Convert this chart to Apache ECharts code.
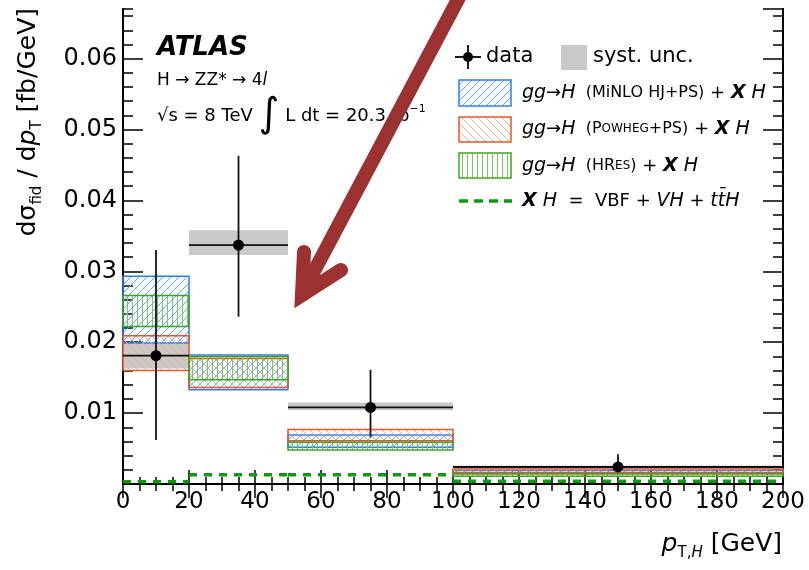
<!DOCTYPE html>
<html>
<head>
<meta charset="utf-8">
<script src="https://cdn.jsdelivr.net/npm/echarts@6/dist/echarts.min.js"></script>
<style>
html, body { margin: 0; padding: 0; background: #fff; }
#main { width: 809px; height: 570px; }
</style>
</head>
<body>
<div id="main"></div>
<script>
// bins in p_T,H [GeV]
var binEdges = [0, 20, 50, 100, 200];
var binCenters = [10, 35, 75, 150];
// measured data (fb/GeV)
var dataVal = [0.0181, 0.0337, 0.0108, 0.0024];
var statLo = [0.0062, 0.0236, 0.0066, 0.0017];
var statHi = [0.0330, 0.0463, 0.0161, 0.0042];
var systLo = [0.0163, 0.0323, 0.0104, 0.0022];
var systHi = [0.0199, 0.0358, 0.0115, 0.0026];
// predictions (band low / high)
var minloLo = [0.0199, 0.0133, 0.0052, 0.0015];
var minloHi = [0.0293, 0.0182, 0.0069, 0.0019];
var powhegLo = [0.0160, 0.0136, 0.0061, 0.0016];
var powhegHi = [0.0209, 0.0177, 0.0077, 0.0021];
var hresLo = [0.0222, 0.0147, 0.0048, 0.0011];
var hresHi = [0.0266, 0.0180, 0.0059, 0.0014];
var xhVal = [0.0003, 0.0013, 0.0013, 0.0004];

var FONT = '"DejaVu Sans"';

// little canvas tiles used as hatch fills (pixel by pixel, stroke gave muddy colours)
function hatch(color, kind, bg) {
    var c = document.createElement('canvas');
    var n = kind === 'vert' ? 5 : 8;
    c.width = n; c.height = n;
    var ctx = c.getContext('2d');
    if (bg) {
        ctx.fillStyle = bg;
        ctx.fillRect(0, 0, n, n);
    }
    ctx.fillStyle = color;
    for (var i = 0; i < n; i++) {
        if (kind === 'fwd') ctx.fillRect(i, n - 1 - i, 1, 1);
        else if (kind === 'back') ctx.fillRect(i, i, 1, 1);
        else ctx.fillRect(2, i, 1, 1);
    }
    return { image: c, repeat: 'repeat' };
}

var blueHatch = hatch('#6ea8f2', 'fwd', 'rgba(110,168,242,0.08)');
var redHatch = hatch('#f4ad95', 'back');
var greenHatch = hatch('#7cc65a', 'vert');

function bandRows(lo, hi) {
    return lo.map(function (v, i) { return [binEdges[i], binEdges[i + 1], v, hi[i]]; });
}

function bandSeries(name, lo, hi, fill, stroke, z) {
    return {
        name: name,
        type: 'custom',
        z: z,
        data: bandRows(lo, hi),
        encode: { x: [0, 1], y: [2, 3] },
        renderItem: function (params, api) {
            var a = api.coord([api.value(0), api.value(3)]);
            var b = api.coord([api.value(1), api.value(2)]);
            return {
                type: 'rect',
                shape: { x: a[0], y: a[1], width: b[0] - a[0], height: b[1] - a[1] },
                style: { fill: fill, stroke: stroke, lineWidth: 1.5 }
            };
        }
    };
}

var dataRows = dataVal.map(function (v, i) {
    return [binCenters[i], binEdges[i], binEdges[i + 1], v, statLo[i], statHi[i]];
});
var xhRows = xhVal.map(function (v, i) { return [binEdges[i], binEdges[i + 1], v]; });

var tickStyle = { color: '#000', width: 1.5 };

function hideAxis(extra) {
    var o = {
        type: 'value',
        axisLine: { show: true, lineStyle: { color: '#000', width: 2 } },
        axisLabel: { show: false },
        splitLine: { show: false }
    };
    for (var k in extra) o[k] = extra[k];
    return o;
}

function legendRich() {
    return {
        i: { fontSize: 19, fontFamily: FONT, fontStyle: 'italic' },
        n: { fontSize: 18, fontFamily: FONT },
        m: { fontSize: 16, fontFamily: FONT },
        sc: { fontSize: 12, fontFamily: FONT },
        x: { fontSize: 19, fontFamily: FONT, fontStyle: 'italic', fontWeight: 'bold' }
    };
}

var myChart = echarts.init(document.getElementById('main'));
var option = {
    backgroundColor: '#fff',
    animation: false,
    grid: { left: 123, right: 26, top: 9, bottom: 86 },
    xAxis: [
        {
            type: 'value', min: 0, max: 200, interval: 20, position: 'bottom',
            axisLine: { lineStyle: { color: '#000', width: 2 } },
            axisTick: { inside: true, length: 14, lineStyle: tickStyle },
            minorTick: { show: true, splitNumber: 4, length: 7, lineStyle: tickStyle },
            axisLabel: { color: '#000', fontSize: 23, fontFamily: FONT, margin: 7 },
            splitLine: { show: false }
        },
        hideAxis({
            min: 0, max: 200, interval: 20, position: 'top',
            axisTick: { inside: true, length: 14, lineStyle: tickStyle },
            minorTick: { show: true, splitNumber: 4, length: 7, lineStyle: tickStyle }
        })
    ],
    yAxis: [
        {
            type: 'value', min: 0, max: 0.067, interval: 0.01, position: 'left',
            axisLine: { lineStyle: { color: '#000', width: 2 } },
            axisTick: { inside: true, length: 20, lineStyle: tickStyle },
            axisLabel: {
                color: '#000', fontSize: 24, fontFamily: FONT, margin: 6, showMaxLabel: false,
                formatter: function (v) {
                    if (v === 0 || Math.abs(v * 100 - Math.round(v * 100)) > 1e-6) return '';
                    return v.toFixed(2);
                }
            },
            splitLine: { show: false }
        },
        hideAxis({
            min: 0, max: 0.067, interval: 0.002, position: 'left',
            axisTick: { inside: true, length: 10, lineStyle: tickStyle }
        }),
        hideAxis({
            min: 0, max: 0.067, interval: 0.01, position: 'right',
            axisTick: { inside: true, length: 20, lineStyle: tickStyle }
        }),
        hideAxis({
            min: 0, max: 0.067, interval: 0.002, position: 'right',
            axisTick: { inside: true, length: 10, lineStyle: tickStyle }
        })
    ],
    series: [
        {
            name: 'syst. unc.',
            type: 'custom',
            z: 2,
            data: bandRows(systLo, systHi),
            encode: { x: [0, 1], y: [2, 3] },
            renderItem: function (params, api) {
                var a = api.coord([api.value(0), api.value(3)]);
                var b = api.coord([api.value(1), api.value(2)]);
                return {
                    type: 'rect',
                    shape: { x: a[0], y: a[1], width: b[0] - a[0], height: b[1] - a[1] },
                    style: { fill: '#c9c9c9' }
                };
            }
        },
        bandSeries('MiNLO', minloLo, minloHi, blueHatch, '#2f7fe6', 3),
        bandSeries('Powheg', powhegLo, powhegHi, redHatch, '#e2572c', 4),
        bandSeries('HRes', hresLo, hresHi, greenHatch, '#41a422', 5),
        {
            name: 'XH',
            type: 'custom',
            z: 6,
            data: xhRows,
            encode: { x: [0, 1], y: 2 },
            renderItem: function (params, api) {
                var a = api.coord([api.value(0), api.value(2)]);
                var b = api.coord([api.value(1), api.value(2)]);
                return {
                    type: 'line',
                    shape: { x1: a[0], y1: a[1], x2: b[0], y2: b[1] },
                    style: { stroke: '#0a9a0a', lineWidth: 3.5, lineDash: [8, 7] }
                };
            }
        },
        {
            name: 'data',
            type: 'custom',
            z: 8,
            data: dataRows,
            encode: { x: 0, y: 3 },
            renderItem: function (params, api) {
                var c = api.coord([api.value(0), api.value(3)]);
                var l = api.coord([api.value(1), api.value(3)]);
                var r = api.coord([api.value(2), api.value(3)]);
                var dn = api.coord([api.value(0), api.value(4)]);
                var up = api.coord([api.value(0), api.value(5)]);
                return {
                    type: 'group',
                    children: [
                        { type: 'line', shape: { x1: l[0], y1: l[1], x2: r[0], y2: r[1] }, style: { stroke: '#111', lineWidth: 1.8 } },
                        { type: 'line', shape: { x1: up[0], y1: up[1], x2: dn[0], y2: dn[1] }, style: { stroke: '#111', lineWidth: 1.8 } },
                        { type: 'circle', shape: { cx: c[0], cy: c[1], r: 5.5 }, style: { fill: '#000' } }
                    ]
                };
            }
        }
    ],
    graphic: [
        // axis titles
        {
            type: 'text', x: 29, y: 8, rotation: Math.PI / 2,
            style: {
                text: '{a|dσ}{s|fid}{a| / d}{p|p}{s|T}{a| [fb/GeV]}',
                align: 'right', verticalAlign: 'middle', fill: '#000',
                rich: {
                    a: { fontSize: 25, fontFamily: FONT, lineHeight: 26, verticalAlign: 'top' },
                    p: { fontSize: 25, fontFamily: FONT, fontStyle: 'italic', lineHeight: 26, verticalAlign: 'top' },
                    s: { fontSize: 15, fontFamily: FONT, lineHeight: 15, padding: [14, 0, 0, 0], verticalAlign: 'top' }
                }
            }
        },
        {
            type: 'text', x: 782, y: 545,
            style: {
                text: '{p|p}{s|T,}{si|H}{a| [GeV]}',
                align: 'right', verticalAlign: 'middle', fill: '#000',
                rich: {
                    a: { fontSize: 25, fontFamily: FONT, lineHeight: 26, verticalAlign: 'top' },
                    p: { fontSize: 25, fontFamily: FONT, fontStyle: 'italic', lineHeight: 26, verticalAlign: 'top' },
                    s: { fontSize: 15, fontFamily: FONT, lineHeight: 15, padding: [14, 0, 0, 0], verticalAlign: 'top' },
                    si: { fontSize: 15, fontFamily: FONT, fontStyle: 'italic', lineHeight: 15, padding: [14, 0, 0, 0], verticalAlign: 'top' }
                }
            }
        },
        // ATLAS labels
        {
            type: 'text', x: 157, y: 48,
            style: { text: 'ATLAS', font: 'italic bold 26px ' + FONT, fill: '#000', verticalAlign: 'middle' }
        },
        {
            type: 'text', x: 157, y: 81,
            style: {
                text: '{n|H → ZZ* → 4}{i|l}', verticalAlign: 'middle', fill: '#000',
                rich: {
                    n: { fontSize: 17, fontFamily: FONT },
                    i: { fontSize: 17, fontFamily: FONT, fontStyle: 'italic' }
                }
            }
        },
        {
            type: 'text', x: 157, y: 116,
            style: {
                text: '{n|√s = 8 TeV }{b|∫}{n| L dt = 20.3 fb}{u|−1}', verticalAlign: 'middle', fill: '#000',
                rich: {
                    n: { fontSize: 18, fontFamily: FONT, verticalAlign: 'middle' },
                    b: { fontSize: 40, fontFamily: FONT, verticalAlign: 'middle' },
                    u: { fontSize: 11, fontFamily: FONT, verticalAlign: 'middle', padding: [0, 0, 14, 0] }
                }
            }
        },
        // legend: data
        { type: 'line', shape: { x1: 455, y1: 57, x2: 481, y2: 57 }, style: { stroke: '#000', lineWidth: 1.8 } },
        { type: 'line', shape: { x1: 468, y1: 45, x2: 468, y2: 69 }, style: { stroke: '#000', lineWidth: 1.8 } },
        { type: 'circle', shape: { cx: 468, cy: 57, r: 5 }, style: { fill: '#000' } },
        { type: 'text', x: 486, y: 57, style: { text: 'data', font: '21px ' + FONT, fill: '#000', verticalAlign: 'middle' } },
        { type: 'rect', shape: { x: 561, y: 45, width: 26, height: 25 }, style: { fill: '#c9c9c9' } },
        { type: 'text', x: 593, y: 57, style: { text: 'syst. unc.', font: '21px ' + FONT, fill: '#000', verticalAlign: 'middle' } },
        // legend: predictions
        { type: 'rect', shape: { x: 459, y: 80, width: 52, height: 26 }, style: { fill: blueHatch, stroke: '#2f7fe6', lineWidth: 1.5 } },
        { type: 'rect', shape: { x: 459, y: 117, width: 52, height: 25 }, style: { fill: redHatch, stroke: '#e2572c', lineWidth: 1.5 } },
        { type: 'rect', shape: { x: 459, y: 153, width: 52, height: 25 }, style: { fill: greenHatch, stroke: '#41a422', lineWidth: 1.5 } },
        { type: 'line', shape: { x1: 459, y1: 201, x2: 512, y2: 201 }, style: { stroke: '#0a9a0a', lineWidth: 3.5, lineDash: [9, 6] } },
        {
            type: 'text', x: 522, y: 93,
            style: {
                text: '{i|gg}{n|→}{i|H}{m|  (MiNLO HJ+PS)}{n| + }{x|X}{i| H}', verticalAlign: 'middle', fill: '#000',
                rich: legendRich()
            }
        },
        {
            type: 'text', x: 522, y: 129,
            style: {
                text: '{i|gg}{n|→}{i|H}{m|  (P}{sc|OWHEG}{m|+PS)}{n| + }{x|X}{i| H}', verticalAlign: 'middle', fill: '#000',
                rich: legendRich()
            }
        },
        {
            type: 'text', x: 522, y: 166,
            style: {
                text: '{i|gg}{n|→}{i|H}{m|  (HR}{sc|ES}{m|)}{n| + }{x|X}{i| H}', verticalAlign: 'middle', fill: '#000',
                rich: legendRich()
            }
        },
        {
            type: 'text', x: 522, y: 201,
            style: {
                text: '{x|X}{i| H}{n|  =  VBF + }{i|VH}{n| + }{i|tt̄H}', verticalAlign: 'middle', fill: '#000',
                rich: legendRich()
            }
        },
        // red arrow drawn over the figure
        {
            type: 'polyline', z: 100,
            shape: { points: [[463, -10], [302, 294]] },
            style: { stroke: '#9c3131', lineWidth: 14, lineCap: 'round', fill: null }
        },
        {
            type: 'polyline', z: 100,
            shape: { points: [[304, 252], [302, 295], [341, 270]] },
            style: { stroke: '#9c3131', lineWidth: 14, lineCap: 'round', lineJoin: 'miter', fill: null }
        }
    ]
};

myChart.setOption(option);
</script>
</body>
</html>
